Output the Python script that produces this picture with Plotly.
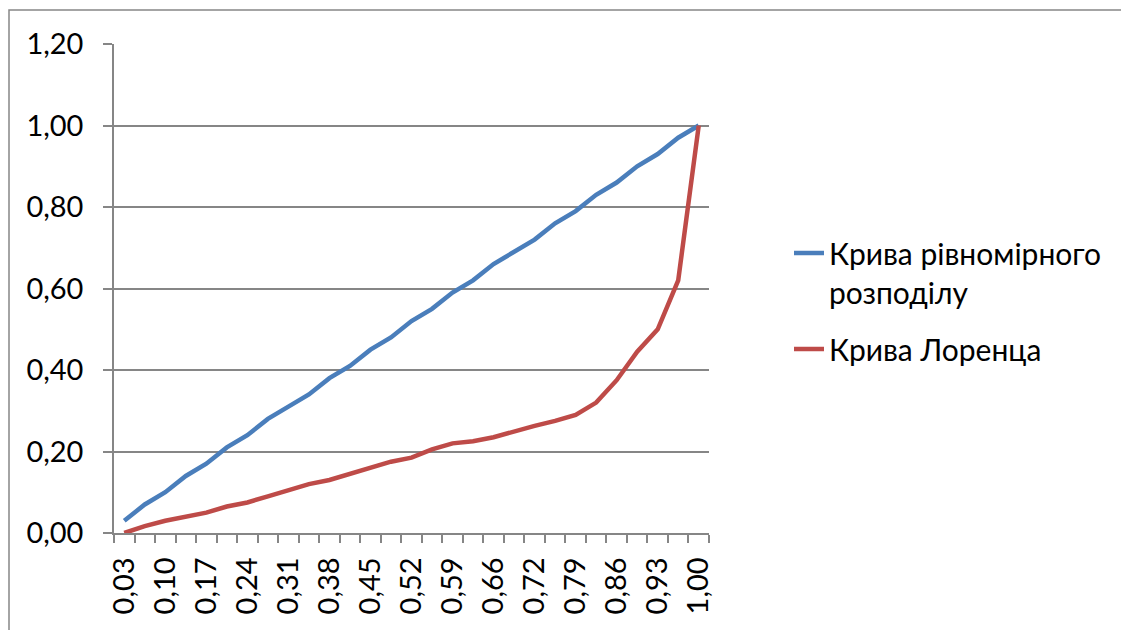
import plotly.graph_objects as go

# Population share categories (cumulative), shown on the horizontal axis
categories = ["0,03", "0,07", "0,10", "0,14", "0,17", "0,21", "0,24", "0,28", "0,31",
              "0,34", "0,38", "0,41", "0,45", "0,48", "0,52", "0,55", "0,59", "0,62",
              "0,66", "0,69", "0,72", "0,76", "0,79", "0,83", "0,86", "0,90", "0,93",
              "0,97", "1,00"]

# Line of perfect equality
uniform = [0.03, 0.07, 0.10, 0.14, 0.17, 0.21, 0.24, 0.28, 0.31, 0.34, 0.38, 0.41,
           0.45, 0.48, 0.52, 0.55, 0.59, 0.62, 0.66, 0.69, 0.72, 0.76, 0.79, 0.83,
           0.86, 0.90, 0.93, 0.97, 1.00]

# Lorenz curve (cumulative income share)
lorenz = [0.00, 0.017, 0.03, 0.04, 0.05, 0.065, 0.075, 0.09, 0.105, 0.12, 0.13, 0.145,
          0.16, 0.175, 0.185, 0.205, 0.22, 0.225, 0.235, 0.25, 0.263, 0.275, 0.29, 0.32,
          0.375, 0.445, 0.50, 0.62, 1.00]

series_names = ["Крива рівномірного<br>розподілу", "Крива Лоренца"]
series_colors = ["#4A7EBB", "#BE4B48"]

y_ticks = [0.0, 0.2, 0.4, 0.6, 0.8, 1.0, 1.2]

W, H = 1121, 630
L, R, T, B = 114, 412, 44, 97
plot_w = W - L - R
plot_h = H - T - B

FONT = "Lato, 'Noto Sans', sans-serif"
GRID = "#868686"

idx = list(range(len(categories)))

fig = go.Figure()
for k, (name, vals, col) in enumerate(zip(series_names, [uniform, lorenz], series_colors)):
    fig.add_trace(go.Scatter(
        x=idx, y=vals, mode="lines", name=name, legendgroup=f"g{k}",
        line=dict(color=col, width=4.5),
        hoverinfo="skip",
    ))

label_idx = idx[::2]
fig.update_layout(
    width=W, height=H,
    margin=dict(l=L, r=R, t=T, b=B, pad=0),
    paper_bgcolor="white", plot_bgcolor="white",
    separators=", ",
    font=dict(family=FONT, size=29, color="black"),
    xaxis=dict(
        range=[-0.5, len(categories) - 0.5],
        tickmode="array", tickvals=label_idx,
        ticktext=[categories[i] for i in label_idx],
        tickangle=-90, ticks="", showgrid=False, zeroline=False,
        showline=True, linecolor=GRID, linewidth=1.5,
        tickfont=dict(family=FONT, size=29),
        ticklabelstandoff=11,
        minor=dict(ticks="outside", tick0=-0.5, dtick=1, ticklen=8,
                   tickcolor=GRID, tickwidth=1.5, showgrid=False),
        fixedrange=True,
    ),
    yaxis=dict(
        range=[0, 1.2], tickmode="array", tickvals=y_ticks,
        tickformat=".2f", ticks="outside", ticklen=9, tickcolor=GRID, tickwidth=1.5,
        showgrid=True, gridcolor=GRID, gridwidth=1.5, zeroline=False,
        showline=True, linecolor=GRID, linewidth=1.5,
        tickfont=dict(family=FONT, size=29),
        ticklabelstandoff=14,
        fixedrange=True,
    ),
    legend=dict(
        xref="container", yref="container",
        x=789 / W, y=1 - 227 / H, xanchor="left", yanchor="top",
        font=dict(family=FONT, size=30), bgcolor="rgba(0,0,0,0)",
        tracegroupgap=15, itemwidth=30, valign="top",
    ),
    showlegend=True,
)

# Chart frame around the whole chart area
fig.add_shape(type="rect", xref="paper", yref="paper",
              x0=(9 - L) / plot_w, x1=(W + 20 - L) / plot_w,
              y0=-(H + 20 - (H - B)) / plot_h, y1=(H - B - 10) / plot_h,
              line=dict(color=GRID, width=1.5), fillcolor="rgba(0,0,0,0)", layer="below")

fig.write_html("out.html", config={"displayModeBar": False})
